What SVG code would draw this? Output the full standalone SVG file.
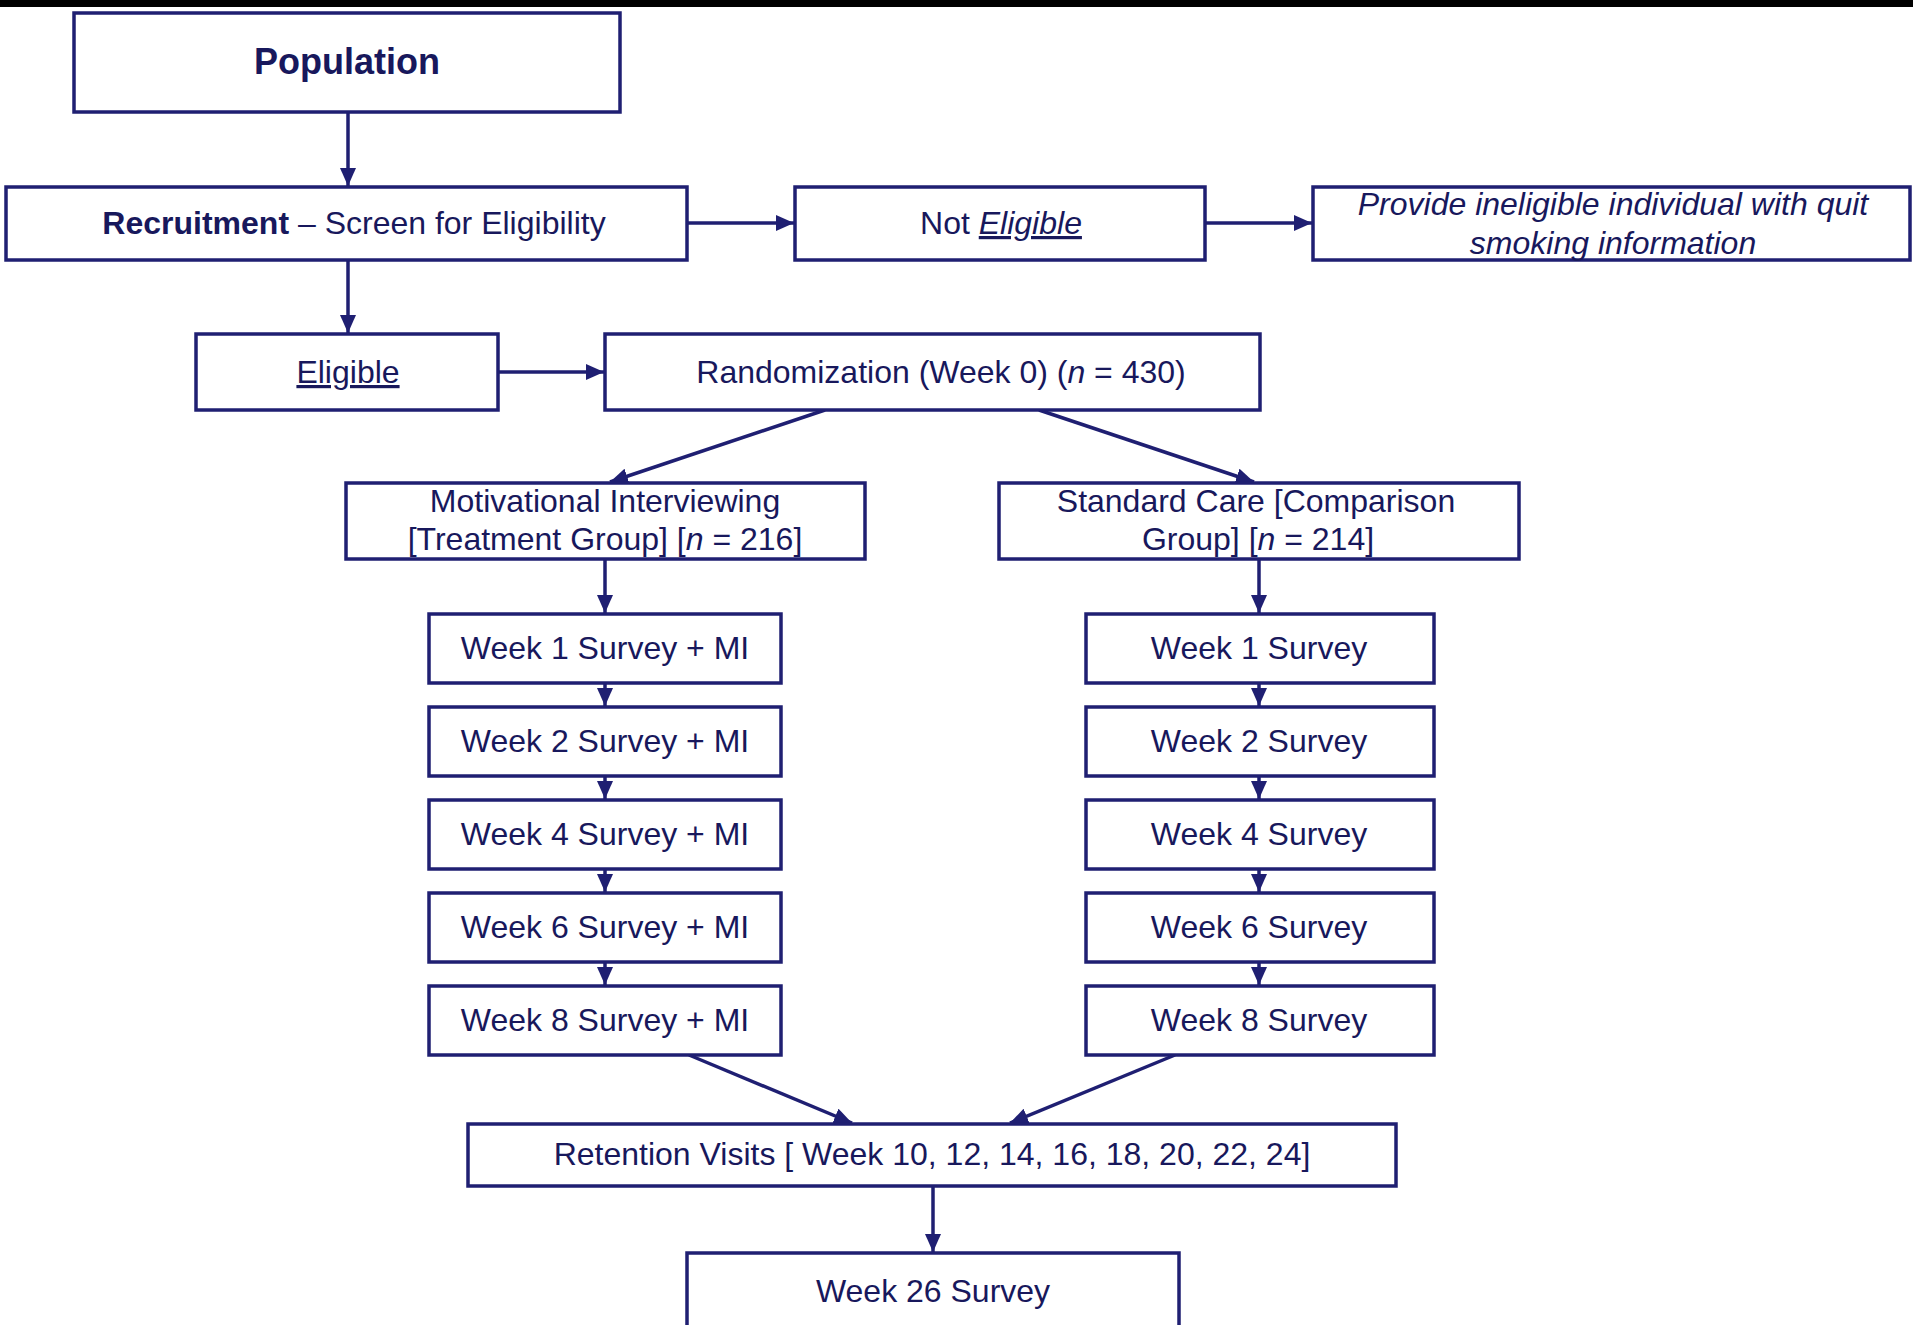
<svg xmlns="http://www.w3.org/2000/svg" width="1913" height="1325" viewBox="0 0 1913 1325">
<style>
.box{fill:#ffffff;stroke:#1f1f72;stroke-width:3.5}
.t{font-family:"Liberation Sans",Arial,sans-serif;font-size:32px;fill:#18185c;text-anchor:middle}
.b{font-weight:bold}
.i{font-style:italic}
.c{stroke:#1f1f72;stroke-width:3.5;fill:none;marker-end:url(#ah)}
</style>
<defs>
<marker id="ah" markerUnits="userSpaceOnUse" markerWidth="18" markerHeight="16" refX="18" refY="8" orient="auto">
<path d="M0,0 L18,8 L0,16 Z" fill="#1f1f72"/>
</marker>
</defs>
<rect x="0" y="0" width="1913" height="1325" fill="#ffffff"/>
<rect x="0" y="0" width="1913" height="7" fill="#000000"/>

<g id="connectors">
<line class="c" x1="348" y1="112" x2="348" y2="186"/>
<line class="c" x1="687" y1="223" x2="794" y2="223"/>
<line class="c" x1="1205" y1="223" x2="1312" y2="223"/>
<line class="c" x1="348" y1="260" x2="348" y2="333"/>
<line class="c" x1="498" y1="372" x2="604" y2="372"/>
<line class="c" x1="825" y1="410" x2="610" y2="482"/>
<line class="c" x1="1039" y1="410" x2="1254" y2="482"/>
<line class="c" x1="605" y1="559" x2="605" y2="613"/>
<line class="c" x1="1259" y1="559" x2="1259" y2="613"/>
<line class="c" x1="605" y1="683" x2="605" y2="706"/>
<line class="c" x1="605" y1="776" x2="605" y2="799"/>
<line class="c" x1="605" y1="869" x2="605" y2="892"/>
<line class="c" x1="605" y1="962" x2="605" y2="985"/>
<line class="c" x1="1259" y1="683" x2="1259" y2="706"/>
<line class="c" x1="1259" y1="776" x2="1259" y2="799"/>
<line class="c" x1="1259" y1="869" x2="1259" y2="892"/>
<line class="c" x1="1259" y1="962" x2="1259" y2="985"/>
<line class="c" x1="689" y1="1055" x2="852" y2="1123"/>
<line class="c" x1="1175" y1="1055" x2="1010" y2="1123"/>
<line class="c" x1="933" y1="1186" x2="933" y2="1252"/>
</g>

<g id="population"><rect class="box" x="74" y="13" width="546" height="99"/><text class="t b" x="347" y="74" style="font-size:36px">Population</text></g>
<g id="recruitment"><rect class="box" x="6" y="187" width="681" height="73"/><text class="t" x="354" y="234"><tspan class="b">Recruitment</tspan> – Screen for Eligibility</text></g>
<g id="not-eligible"><rect class="box" x="795" y="187" width="410" height="73"/><text class="t" x="1001" y="234">Not <tspan class="i" text-decoration="underline">Eligible</tspan></text></g>
<g id="provide"><rect class="box" x="1313" y="187" width="597" height="73"/><text class="t i" x="1613" y="215">Provide ineligible individual with quit</text><text class="t i" x="1613" y="254">smoking information</text></g>
<g id="eligible"><rect class="box" x="196" y="334" width="302" height="76"/><text class="t" x="348" y="383" text-decoration="underline">Eligible</text></g>
<g id="randomization"><rect class="box" x="605" y="334" width="655" height="76"/><text class="t" x="941" y="383">Randomization (Week 0) (<tspan class="i">n</tspan> = 430)</text></g>
<g id="mi-group"><rect class="box" x="346" y="483" width="519" height="76"/><text class="t" x="605" y="512">Motivational Interviewing</text><text class="t" x="605" y="550">[Treatment Group] [<tspan class="i">n</tspan> = 216]</text></g>
<g id="sc-group"><rect class="box" x="999" y="483" width="520" height="76"/><text class="t" x="1256" y="512">Standard Care [Comparison</text><text class="t" x="1258" y="550">Group] [<tspan class="i">n</tspan> = 214]</text></g>

<g id="mi-w1"><rect class="box" x="429" y="614" width="352" height="69"/><text class="t" x="605" y="659">Week 1 Survey + MI</text></g>
<g id="mi-w2"><rect class="box" x="429" y="707" width="352" height="69"/><text class="t" x="605" y="752">Week 2 Survey + MI</text></g>
<g id="mi-w4"><rect class="box" x="429" y="800" width="352" height="69"/><text class="t" x="605" y="845">Week 4 Survey + MI</text></g>
<g id="mi-w6"><rect class="box" x="429" y="893" width="352" height="69"/><text class="t" x="605" y="938">Week 6 Survey + MI</text></g>
<g id="mi-w8"><rect class="box" x="429" y="986" width="352" height="69"/><text class="t" x="605" y="1031">Week 8 Survey + MI</text></g>

<g id="sc-w1"><rect class="box" x="1086" y="614" width="348" height="69"/><text class="t" x="1259" y="659">Week 1 Survey</text></g>
<g id="sc-w2"><rect class="box" x="1086" y="707" width="348" height="69"/><text class="t" x="1259" y="752">Week 2 Survey</text></g>
<g id="sc-w4"><rect class="box" x="1086" y="800" width="348" height="69"/><text class="t" x="1259" y="845">Week 4 Survey</text></g>
<g id="sc-w6"><rect class="box" x="1086" y="893" width="348" height="69"/><text class="t" x="1259" y="938">Week 6 Survey</text></g>
<g id="sc-w8"><rect class="box" x="1086" y="986" width="348" height="69"/><text class="t" x="1259" y="1031">Week 8 Survey</text></g>

<g id="retention"><rect class="box" x="468" y="1124" width="928" height="62"/><text class="t" x="932" y="1165">Retention Visits [ Week 10, 12, 14, 16, 18, 20, 22, 24]</text></g>
<g id="week26"><rect class="box" x="687" y="1253" width="492" height="90"/><text class="t" x="933" y="1302">Week 26 Survey</text></g>
</svg>
